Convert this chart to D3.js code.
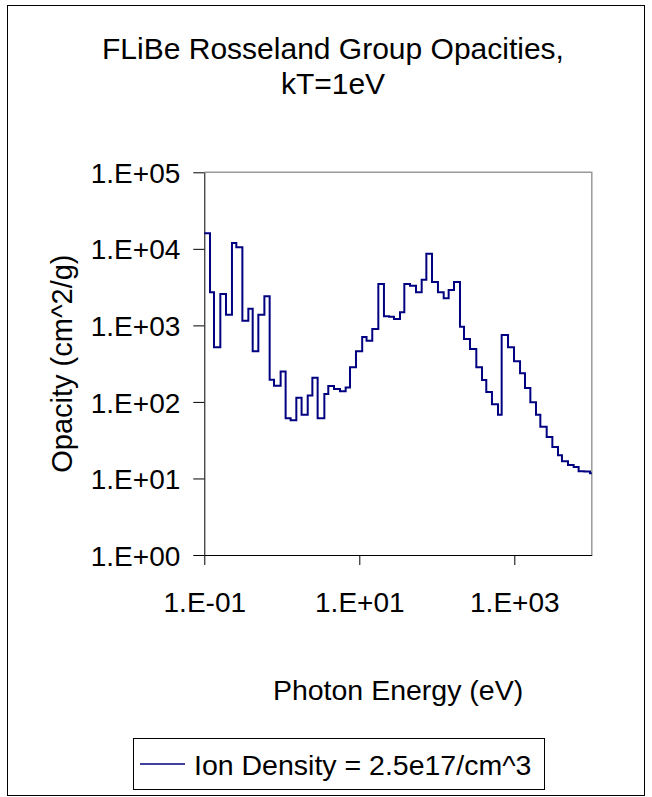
<!DOCTYPE html>
<html>
<head>
<meta charset="utf-8">
<script src="https://cdn.jsdelivr.net/npm/d3@7"></script>
<style>
  body { margin: 0; background: #fff; }
  text { font-family: "Liberation Sans", Arial, sans-serif; fill: #000; }
</style>
</head>
<body>
<div id="chart"></div>
<script>
// Rosseland group opacities
// lower edge of each photon energy group (eV)
const groupEnergy = [
  0.1, 0.1185, 0.1334, 0.161, 0.1905, 0.2275, 0.259, 0.31, 0.37, 0.421,
  0.498, 0.596, 0.697, 0.793, 0.966, 1.12, 1.30, 1.54, 1.80, 2.16,
  2.48, 2.90, 3.54, 3.98, 4.72, 5.64, 6.67, 7.59, 9.06, 10.9,
  12.4, 14.7, 17.6, 20.8, 24.2, 28.0, 33.5, 38.1, 45.1, 53.9,
  63.8, 73.3, 86.7, 103.5, 122.7, 142.2, 166.7, 199.1, 224.4, 268.0,
  323.5, 383, 435, 515, 616, 687, 830, 991, 1186, 1374,
  1611, 1905, 2167, 2617, 3097, 3664, 4121, 4932, 5834, 6761,
  8010, 9480
];
const lastEdge = 1e4;
// opacity in each group (cm^2/g)
const opacity = [
  15960, 2704, 517, 2572, 1381, 11920, 10470, 1153, 1655, 458,
  1381, 2399, 195, 163, 249, 61.1, 57.5, 113, 68.2, 121,
  207, 61.1, 127, 162, 148, 138, 154, 283, 458, 705,
  632, 897, 3473, 1313, 1300, 1213, 1482, 3473, 3304, 2704,
  3956, 8650, 3690, 2704, 2258, 2899, 3690, 962, 664, 492,
  283, 194, 135, 93.1, 68.2, 750, 517, 340, 237, 152,
  98.9, 68.2, 47.5, 34.8, 25.8, 20.1, 16.8, 15.0, 14.1, 12.4,
  12.3, 11.7
];
const xTicks = [0.1, 10, 1000];
const yTicks = [1, 10, 100, 1000, 10000, 100000];
const seriesName = 'Ion Density = 2.5e17/cm^3';

const W = 652, H = 797;
const plot = { left: 204.3, right: 591.8, top: 172.3, bottom: 555 };

const svg = d3.select('#chart').append('svg')
  .attr('width', W)
  .attr('height', H);

// chart area border
svg.append('rect')
  .attr('x', 7.5).attr('y', 5.5)
  .attr('width', 637).attr('height', 790)
  .attr('fill', '#fff')
  .attr('stroke', '#000')
  .attr('stroke-width', 1);

const x = d3.scaleLog().domain([0.1, 1e4]).range([plot.left, plot.right]);
const y = d3.scaleLog().domain([1, 1e5]).range([plot.bottom, plot.top]);

function fmtE(d) {
  const e = Math.round(Math.log10(d));
  return '1.E' + (e < 0 ? '-' : '+') + String(Math.abs(e)).padStart(2, '0');
}

// top and right edges of plot area (grey)
svg.append('path')
  .attr('d', `M${plot.left},${plot.top}H${plot.right}V${plot.bottom}`)
  .attr('fill', 'none')
  .attr('stroke', '#999')
  .attr('stroke-width', 1.5);

// y axis
const yAxis = svg.append('g')
  .attr('transform', `translate(${plot.left},0)`)
  .call(d3.axisLeft(y).tickValues(yTicks).tickFormat(fmtE)
    .tickSize(11).tickSizeOuter(0).tickPadding(13));
yAxis.selectAll('text')
  .style('font-size', '28px')
  .attr('dy', '0.36em');

// x axis
const xAxis = svg.append('g')
  .attr('transform', `translate(0,${plot.bottom})`)
  .call(d3.axisBottom(x).tickValues(xTicks).tickFormat(fmtE)
    .tickSize(10).tickSizeOuter(0).tickPadding(27));
xAxis.selectAll('text')
  .style('font-size', '28px');

svg.selectAll('.domain, .tick line')
  .attr('stroke', '#000')
  .attr('stroke-width', 1);

// step line through the groups
const pts = groupEnergy.map((e, i) => [e, opacity[i]]);
pts.push([lastEdge, opacity[opacity.length - 1]]);

const line = d3.line()
  .x(d => x(d[0]))
  .y(d => y(d[1]))
  .curve(d3.curveStepAfter);

svg.append('path')
  .datum(pts)
  .attr('d', line)
  .attr('fill', 'none')
  .attr('stroke', '#000080')
  .attr('stroke-width', 2);

// titles
const title = svg.append('text')
  .attr('text-anchor', 'middle')
  .style('font-size', '30px');
title.append('tspan').attr('x', 333).attr('y', 59).text('FLiBe Rosseland Group Opacities,');
title.append('tspan').attr('x', 333).attr('y', 94).text('kT=1eV');

svg.append('text')
  .attr('x', (plot.left + plot.right) / 2)
  .attr('y', 700)
  .attr('text-anchor', 'middle')
  .style('font-size', '28.5px')
  .text('Photon Energy (eV)');

svg.append('text')
  .attr('transform', `translate(72,${(plot.top + plot.bottom) / 2}) rotate(-90)`)
  .attr('text-anchor', 'middle')
  .style('font-size', '29px')
  .text('Opacity (cm^2/g)');

// legend
const legend = svg.append('g');
legend.append('rect')
  .attr('x', 133.5).attr('y', 738.5)
  .attr('width', 411).attr('height', 51)
  .attr('fill', '#fff')
  .attr('stroke', '#000')
  .attr('stroke-width', 1);
legend.append('line')
  .attr('x1', 140).attr('x2', 185)
  .attr('y1', 764).attr('y2', 764)
  .attr('stroke', '#000080')
  .attr('stroke-width', 1.5);
legend.append('text')
  .attr('x', 194).attr('y', 775)
  .style('font-size', '28.5px')
  .text(seriesName);
</script>
</body>
</html>
